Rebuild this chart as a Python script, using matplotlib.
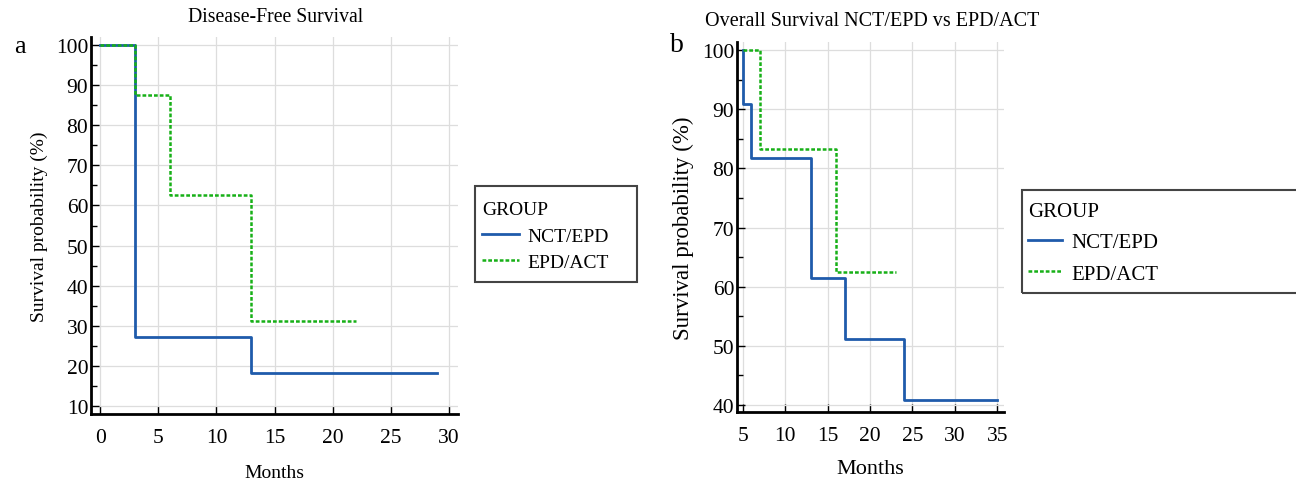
import matplotlib.pyplot as plt
from matplotlib.ticker import MultipleLocator
from matplotlib.patches import Rectangle

plt.rcParams['font.family'] = ['Liberation Serif', 'DejaVu Serif']

# Disease-free survival (panel a)
dfs_nct_t = [0, 3, 13, 29]
dfs_nct_s = [100, 27.27, 18.18, 18.18]
dfs_epd_t = [0, 3, 6, 13, 22]
dfs_epd_s = [100, 87.5, 62.5, 31.25, 31.25]

# Overall survival (panel b)
os_nct_t = [5, 5.05, 6, 13, 17, 24, 35]
os_nct_s = [100, 90.9, 81.8, 61.4, 51.1, 40.9, 40.9]
os_epd_t = [5, 7, 16, 23]
os_epd_s = [100, 83.3, 62.5, 62.5]

groups = ['NCT/EPD', 'EPD/ACT']
blue = '#1f5bab'
green = '#17b017'

W, H = 1296, 485
fig = plt.figure(figsize=(W / 100, H / 100), dpi=100)


def box(x0, y0, x1, y1):
    return [x0 / W, 1 - y1 / H, (x1 - x0) / W, (y1 - y0) / H]


def frame(x0, y0, x1, y1):
    r = Rectangle((x0 / W, 1 - y1 / H), (x1 - x0) / W, (y1 - y0) / H,
                  transform=fig.transFigure, fill=False, edgecolor='#444444', linewidth=1.5)
    fig.add_artist(r)


def style(ax, fs):
    for s in ['top', 'right']:
        ax.spines[s].set_visible(False)
    for s in ['left', 'bottom']:
        ax.spines[s].set_linewidth(2)
    ax.grid(True, color='#dddddd', linewidth=0.9)
    ax.set_axisbelow(True)
    ax.yaxis.set_minor_locator(MultipleLocator(5))
    ax.tick_params(which='major', direction='in', length=6, width=1, labelsize=fs, pad=2)
    ax.tick_params(which='minor', direction='in', length=4, width=1)
    ax.tick_params(axis='x', pad=10)


# panel a
ax1 = fig.add_axes(box(91, 38, 458, 415))
l1, = ax1.step(dfs_nct_t, dfs_nct_s, where='post', color=blue, lw=2)
l2, = ax1.step(dfs_epd_t, dfs_epd_s, where='post', color=green, lw=1.8, linestyle=(0, (1.5, 0.8)))
ax1.set_xlim(-0.8, 30.8)
ax1.set_ylim(8, 102)
ax1.set_xticks(range(0, 31, 5))
ax1.set_yticks(range(10, 101, 10))
style(ax1, 15.5)
ax1.set_xlabel('Months', fontsize=14, labelpad=12)
ax1.set_ylabel('Survival probability (%)', fontsize=14, labelpad=6)
fig.text(276 / W, 1 - 18 / H, 'Disease-Free Survival', ha='center', va='center', fontsize=14.2)
fig.text(20 / W, 1 - 47 / H, 'a', ha='center', va='center', fontsize=19)
frame(475, 187, 637, 283)
fig.legend([l1, l2], groups, title='GROUP', loc='center left',
           bbox_to_anchor=(478 / W, 1 - 237 / H), borderaxespad=0, borderpad=0.2,
           fontsize=14, title_fontsize=14, frameon=False,
           handlelength=1.9, handletextpad=0.45, labelspacing=0.45, alignment='left')

# panel b
ax2 = fig.add_axes(box(737, 43, 1004, 413))
l3, = ax2.step(os_nct_t, os_nct_s, where='post', color=blue, lw=2)
l4, = ax2.step(os_epd_t, os_epd_s, where='post', color=green, lw=1.8, linestyle=(0, (1.5, 0.8)))
ax2.set_xlim(4.3, 35.8)
ax2.set_ylim(38.8, 101.4)
ax2.set_xticks(range(5, 36, 5))
ax2.set_yticks(range(40, 101, 10))
style(ax2, 15.5)
ax2.set_xlabel('Months', fontsize=16, labelpad=10)
ax2.set_ylabel('Survival probability (%)', fontsize=16.5, labelpad=6)
fig.text(872 / W, 1 - 22 / H, 'Overall Survival NCT/EPD vs EPD/ACT', ha='center', va='center', fontsize=14.5)
fig.text(677 / W, 1 - 45 / H, 'b', ha='center', va='center', fontsize=20)
frame(1022, 191, 1310, 294)
fig.legend([l3, l4], groups, title='GROUP', loc='center left',
           bbox_to_anchor=(1024 / W, 1 - 244 / H), borderaxespad=0, borderpad=0.2,
           fontsize=15, title_fontsize=15, frameon=False,
           handlelength=1.6, handletextpad=0.45, labelspacing=0.55, alignment='left')

fig.savefig('out.png', dpi=100)
